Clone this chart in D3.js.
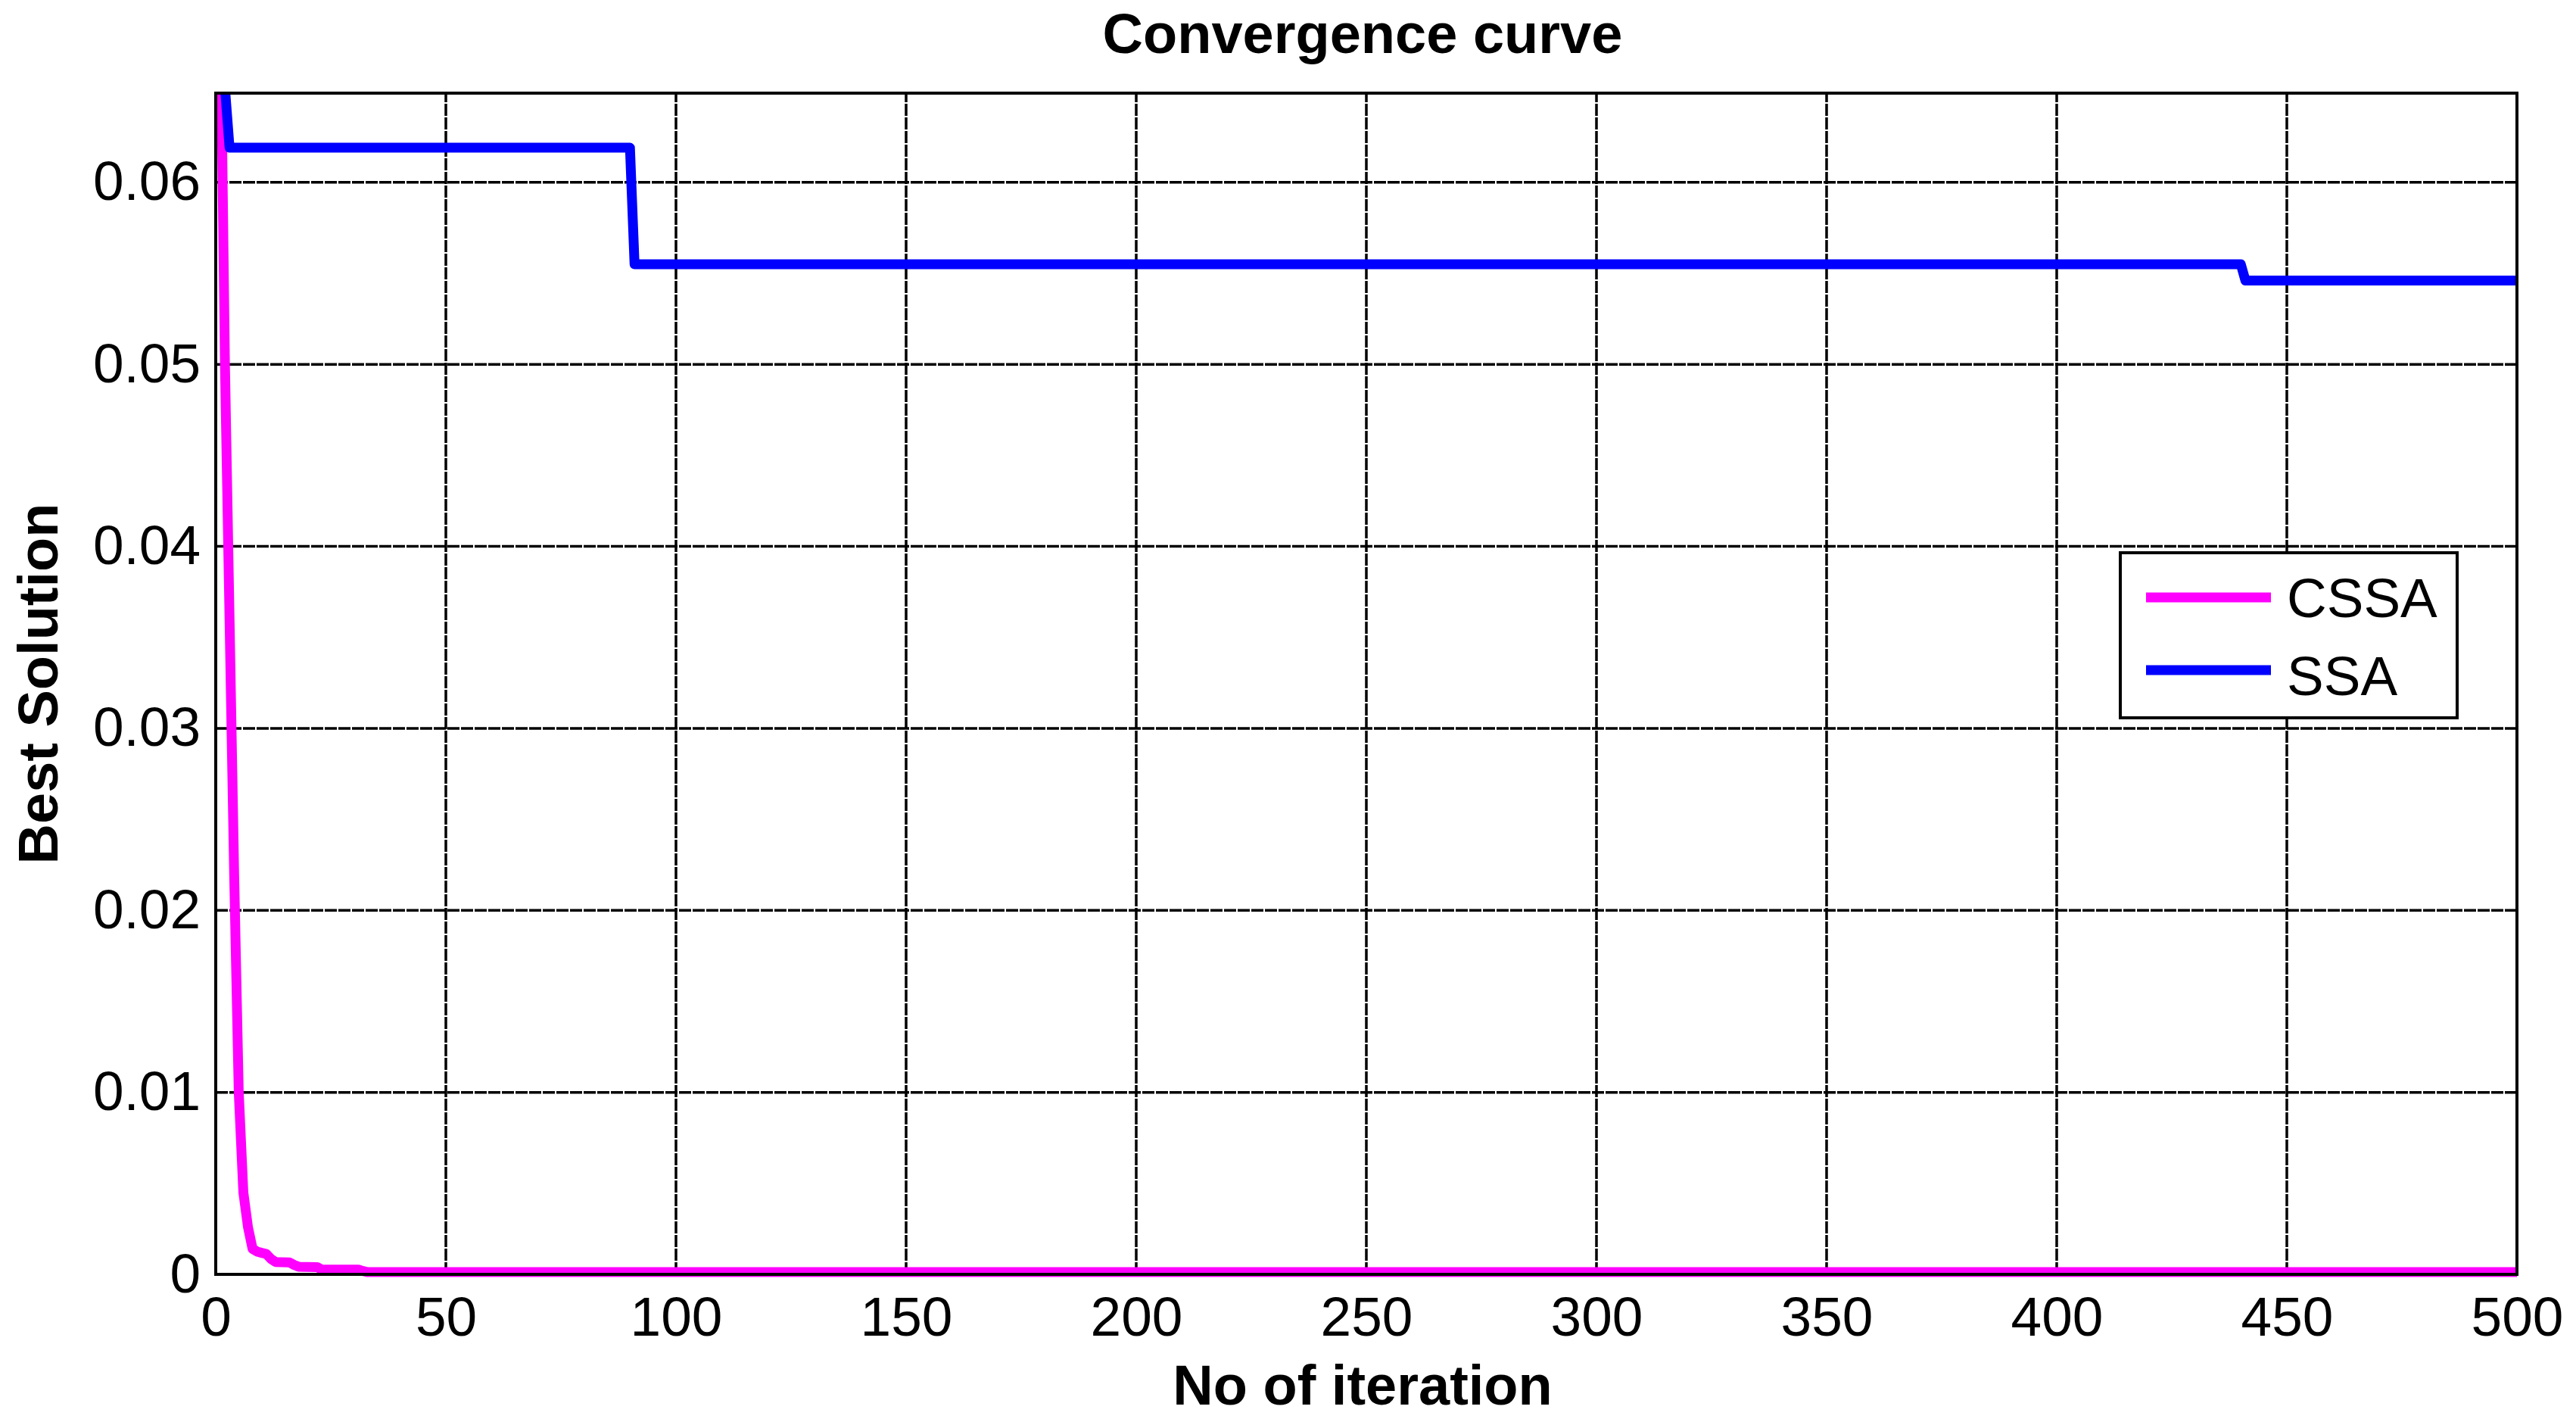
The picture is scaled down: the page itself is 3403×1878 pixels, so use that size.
<!DOCTYPE html>
<head>
	<script src="https://d3js.org/d3.v7.min.js"></script>
	<style>
		body {
			margin: 0;
			background: #fff;
		}

		.title, .label {
			font-family: "Liberation Sans", Arial, sans-serif;
			font-size: 74px;
			font-weight: bold;
			fill: #000;
		}

		.tick-label, .legend-text {
			font-family: "Liberation Sans", Arial, sans-serif;
			font-size: 73px;
			fill: #000;
		}

		.grid {
			stroke: #000;
			stroke-width: 3.5;
			stroke-dasharray: 16, 2;
		}

		.frame {
			fill: none;
			stroke: #000;
			stroke-width: 4;
		}

		.curve {
			fill: none;
			stroke-width: 13;
			stroke-linejoin: round;
			stroke-linecap: butt;
		}
	</style>
</head>
<body>
	<script>
		// data (value changes only, drawn point to point)
		var seriesNames = ["CSSA", "SSA"];
		var seriesColors = ["#ff00ff", "#0000ff"];

		var cssaIter = [1, 2, 3, 4, 5, 6, 7, 8, 9, 10, 11, 12, 13, 16, 17, 18, 22, 23, 31, 32, 33, 500];
		var cssaValue = [0.0700, 0.0500, 0.0360, 0.0220, 0.0100, 0.0045, 0.0026, 0.0014, 0.00125, 0.00118, 0.00112,
			0.00085, 0.00068, 0.00066, 0.00052, 0.00042, 0.00040, 0.00027, 0.00026, 0.00018, 0.00012, 0.00012];

		var ssaIter = [1, 2, 3, 90, 91, 440, 441, 500];
		var ssaValue = [0.0700, 0.0652, 0.0619, 0.0619, 0.0555, 0.0555, 0.0546, 0.0546];

		var xTicks = [0, 50, 100, 150, 200, 250, 300, 350, 400, 450, 500];
		var yTicks = [0, 0.01, 0.02, 0.03, 0.04, 0.05, 0.06];
		var yTickLabels = ["0", "0.01", "0.02", "0.03", "0.04", "0.05", "0.06"];
		var xLimits = [0, 500];
		var yLimits = [0, 0.0649];

		// variables
		var width = 3403;
		var height = 1878;
		var margin = { top: 123, right: 78, bottom: 195, left: 285 };

		// scales
		var xScale = d3.scaleLinear()
			.domain(xLimits)
			.range([margin.left, width - margin.right]);

		var yScale = d3.scaleLinear()
			.domain(yLimits)
			.range([height - margin.bottom, margin.top]);

		// svg
		var svg = d3.select("body")
			.append("svg")
			.attr("width", width)
			.attr("height", height)
			.style("display", "block");

		svg.append("rect")
			.attr("width", width)
			.attr("height", height)
			.attr("fill", "#fff");

		// grid
		svg.append("g")
			.selectAll("line")
			.data(xTicks)
			.enter()
			.append("line")
			.attr("class", "grid")
			.attr("x1", function(d) { return xScale(d) })
			.attr("x2", function(d) { return xScale(d) })
			.attr("y1", yScale(yLimits[0]))
			.attr("y2", yScale(yLimits[1]));

		svg.append("g")
			.selectAll("line")
			.data(yTicks)
			.enter()
			.append("line")
			.attr("class", "grid")
			.attr("x1", xScale(xLimits[0]))
			.attr("x2", xScale(xLimits[1]))
			.attr("y1", function(d) { return yScale(d) })
			.attr("y2", function(d) { return yScale(d) });

		// axes (labels only, matlab style)
		var axisX = svg.append("g")
			.attr("transform", "translate(" + [0, height - margin.bottom] + ")")
			.call(d3.axisBottom(xScale).tickValues(xTicks).tickSize(0).tickPadding(0));
		axisX.select(".domain").remove();
		axisX.selectAll("text")
			.attr("class", "tick-label")
			.attr("y", 81)
			.attr("dy", 0)
			.attr("fill", null);

		var axisY = svg.append("g")
			.attr("transform", "translate(" + [margin.left, 0] + ")")
			.call(d3.axisLeft(yScale).tickValues(yTicks)
				.tickFormat(function(d, i) { return yTickLabels[i] })
				.tickSize(0).tickPadding(0));
		axisY.select(".domain").remove();
		axisY.selectAll("text")
			.attr("class", "tick-label")
			.attr("x", -20)
			.attr("dy", 23)
			.attr("fill", null);

		axisX.attr("font-size", null).attr("font-family", null);
		axisY.attr("font-size", null).attr("font-family", null);

		// curves
		svg.append("clipPath")
			.attr("id", "plot-clip")
			.append("rect")
			.attr("x", xScale(xLimits[0]) - 10)
			.attr("y", yScale(yLimits[1]))
			.attr("width", xScale(xLimits[1]) - xScale(xLimits[0]) + 20)
			.attr("height", yScale(yLimits[0]) - yScale(yLimits[1]) + 10);

		var line = d3.line()
			.x(function(d) { return xScale(d[0]) })
			.y(function(d) { return yScale(d[1]) });

		var series = [
			d3.zip(cssaIter, cssaValue),
			d3.zip(ssaIter, ssaValue)
		];

		svg.append("g")
			.attr("clip-path", "url(#plot-clip)")
			.selectAll("path")
			.data(series)
			.enter()
			.append("path")
			.attr("class", "curve")
			.attr("stroke", function(d, i) { return seriesColors[i] })
			.attr("d", line);

		// frame
		svg.append("rect")
			.attr("class", "frame")
			.attr("x", xScale(xLimits[0]))
			.attr("y", yScale(yLimits[1]))
			.attr("width", xScale(xLimits[1]) - xScale(xLimits[0]))
			.attr("height", yScale(yLimits[0]) - yScale(yLimits[1]));

		// legend
		var legend = svg.append("g")
			.attr("transform", "translate(" + [2801, 730] + ")");
		legend.append("rect")
			.attr("class", "frame")
			.style("fill", "#fff")
			.attr("width", 445)
			.attr("height", 218);
		var legendItem = legend.selectAll(".item")
			.data(seriesNames)
			.enter()
			.append("g")
			.attr("class", "item");
		legendItem.append("line")
			.attr("x1", 34)
			.attr("x2", 199)
			.attr("y1", function(d, i) { return 59 + i * 96 })
			.attr("y2", function(d, i) { return 59 + i * 96 })
			.attr("stroke", function(d, i) { return seriesColors[i] })
			.attr("stroke-width", 13);
		legendItem.append("text")
			.attr("class", "legend-text")
			.attr("x", 220)
			.attr("y", function(d, i) { return 85 + i * 103 })
			.text(function(d) { return d });

		// titles
		var plotCenter = (xScale(xLimits[0]) + xScale(xLimits[1])) / 2;
		svg.append("text")
			.attr("class", "title")
			.attr("x", plotCenter - 5)
			.attr("y", 70)
			.attr("text-anchor", "middle")
			.text("Convergence curve");
		svg.append("text")
			.attr("class", "label")
			.attr("x", plotCenter - 5)
			.attr("y", 1855)
			.attr("text-anchor", "middle")
			.text("No of iteration");
		svg.append("text")
			.attr("class", "label")
			.attr("transform", "translate(" + [76, (yScale(yLimits[0]) + yScale(yLimits[1])) / 2] + ") rotate(-90)")
			.attr("text-anchor", "middle")
			.text("Best Solution");
	</script>
</body>
</html>
